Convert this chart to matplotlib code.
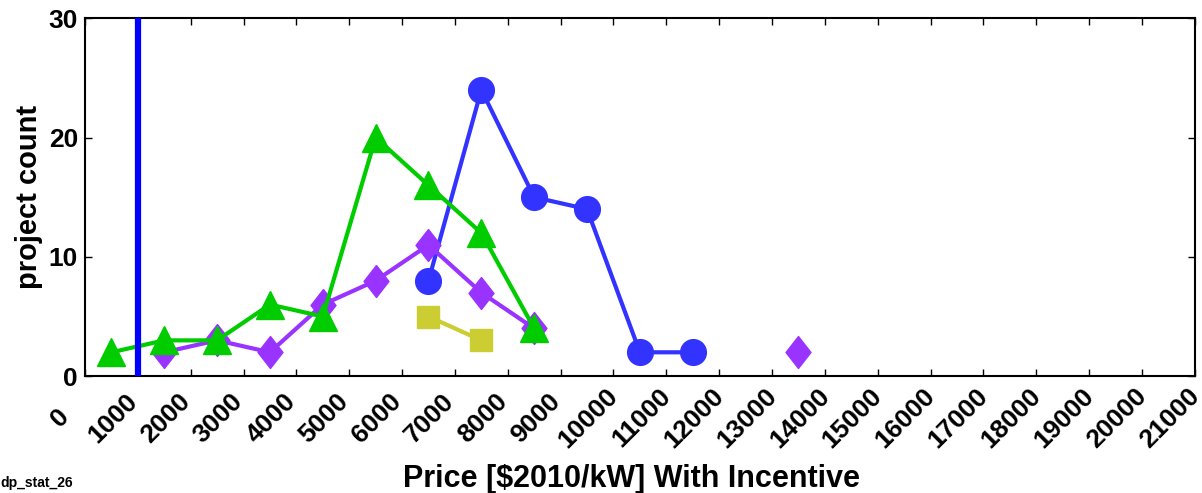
import numpy as np
import matplotlib.pyplot as plt
import matplotlib.transforms as mtransforms

plt.rcParams["font.family"] = ["Liberation Sans", "DejaVu Sans"]
plt.rcParams["font.weight"] = "bold"

# bin centres ($2010/kW)
bins = [500, 1500, 2500, 3500, 4500, 5500, 6500, 7500, 8500,
        9500, 10500, 11500, 12500, 13500]
nan = np.nan
green = [2, 3, 3, 6, 5, 20, 16, 12, 4, nan, nan, nan, nan, nan]
purple = [nan, 2, 3, 2, 6, 8, 11, 7, 4, nan, nan, nan, nan, 2]
blue = [nan, nan, nan, nan, nan, nan, 8, 24, 15, 14, 2, 2, nan, nan]
yellow = [nan, nan, nan, nan, nan, nan, 5, 3, nan, nan, nan, nan, nan, nan]
ref_price = 1000
xticks = list(range(0, 21001, 1000))
yticks = [0, 10, 20, 30]

fig = plt.figure(figsize=(12.02, 4.93), dpi=100)
ax = fig.add_axes([0.0707, 0.237, 0.9233, 0.726])

diamond = [(0, 1), (0.78, 0), (0, -1), (-0.78, 0), (0, 1)]

ax.plot(bins, blue, color="#3333FF", marker="o", markersize=18.5, linewidth=3, zorder=2)
ax.plot(bins, yellow, color="#CCCC33", marker="s", markersize=16.5, linewidth=3, zorder=3)
ax.plot(bins, purple, color="#9933FF", marker=diamond, markersize=23, linewidth=3, zorder=4)
ax.plot(bins, green, color="#00CC00", marker="^", markersize=20, linewidth=3, zorder=5)
ax.axvline(ref_price, color="#0000FF", linewidth=4.5, zorder=6)

ax.set_xlim(0, 21000)
ax.set_ylim(0, 30)
ax.set_xticks(xticks)
ax.set_xticklabels([])
# rotated tick labels, centred below each tick
trans = mtransforms.blended_transform_factory(ax.transData, ax.transAxes) + \
    mtransforms.ScaledTranslation(-0.25, -0.42, fig.dpi_scale_trans)
for t in xticks:
    ax.text(t, 0, str(t), transform=trans, rotation=45, ha="center", va="center",
            fontsize=19, fontweight="bold", clip_on=False)

ax.set_yticks(yticks)
ax.set_yticklabels([str(t) for t in yticks], fontsize=19, fontweight="bold")
ax.tick_params(direction="in", length=5, width=1, top=True, right=True)
ax.tick_params(axis="y", pad=5)
for s in ax.spines.values():
    s.set_linewidth(1.5)

ax.set_ylabel("project count", fontsize=21, fontweight="bold")
ax.yaxis.set_label_coords(-0.0375, 0.5)
ax.set_xlabel("Price [$2010/kW] With Incentive", fontsize=22, fontweight="bold")
ax.xaxis.set_label_coords(0.492, -0.245)
fig.text(0.0, 0.013, "dp_stat_26", fontsize=10, fontweight="bold")

fig.savefig("out.png", dpi=100)
